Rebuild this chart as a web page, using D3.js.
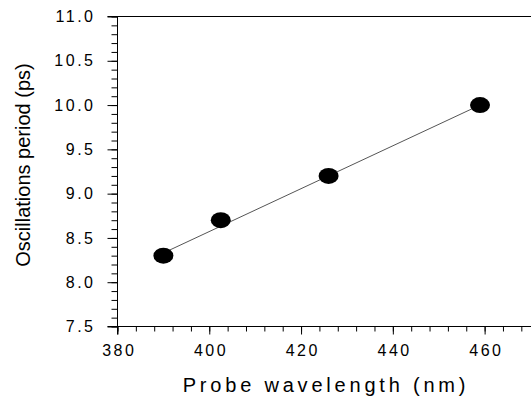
<!DOCTYPE html>
<html>
<head>
<meta charset="utf-8">
<script src="https://cdn.jsdelivr.net/npm/d3@7"></script>
<style>
  html, body { margin: 0; padding: 0; background: #fff; }
  svg { display: block; }
  text { font-family: "Liberation Sans", Arial, sans-serif; fill: #000; }
</style>
</head>
<body>
<svg id="chart" width="531" height="397"></svg>
<script>
"use strict";

// data
const wavelengths = [390, 402.5, 426, 459];
const periods = [8.3, 8.7, 9.2, 10.0];
// straight fit line drawn through the points (end points)
const fitX = [390, 459];
const fitY = [8.33, 10.0];

const xTicks = [380, 400, 420, 440, 460];
const yTicks = [7.5, 8.0, 8.5, 9.0, 9.5, 10.0, 10.5, 11.0];

const width = 531, height = 397;
const margin = { left: 117.5, top: 16.5, right: 0, bottom: 70.5 };

const svg = d3.select("#chart");

const x = d3.scaleLinear().domain([380, 470]).range([margin.left, margin.left + 413]);
const y = d3.scaleLinear().domain([7.5, 11.0]).range([height - margin.bottom, margin.top]);

// top frame line
svg.append("line")
  .attr("x1", margin.left - 10).attr("x2", width)
  .attr("y1", y(11.0)).attr("y2", y(11.0))
  .attr("stroke", "#000").attr("stroke-width", 1);

// y axis with minor ticks
const yMinor = d3.range(75, 111, 1).map(d => d / 10);
svg.append("g")
  .attr("transform", `translate(${margin.left},0)`)
  .call(d3.axisLeft(y).tickValues(yMinor).tickSize(6).tickFormat(""))
  .call(g => g.select(".domain").remove());

svg.append("g")
  .attr("class", "y-axis")
  .attr("transform", `translate(${margin.left},0)`)
  .call(d3.axisLeft(y).tickValues(yTicks).tickSize(10).tickPadding(12).tickFormat(d3.format(".1f")))
  .call(g => g.select(".domain").attr("d", `M0,${y(11.0)}V${y(7.5) + 8}`))
  .call(g => g.selectAll("text")
    .style("font-size", "16px")
    .style("letter-spacing", "2.5px"));

// x axis with minor ticks
const xMinor = d3.range(380, 471, 4);
svg.append("g")
  .attr("transform", `translate(0,${y(7.5)})`)
  .call(d3.axisBottom(x).tickValues(xMinor).tickSize(5).tickFormat(""))
  .call(g => g.select(".domain").remove());

svg.append("g")
  .attr("transform", `translate(0,${y(7.5)})`)
  .call(d3.axisBottom(x).tickValues(xTicks).tickSize(8).tickPadding(10))
  .call(g => g.select(".domain").attr("d", `M${margin.left - 10},0H${width}`))
  .call(g => g.selectAll("text")
    .attr("dx", "1.25px")
    .style("font-size", "16px")
    .style("letter-spacing", "2.5px"));

// fit line
svg.append("line")
  .attr("x1", x(fitX[0])).attr("y1", y(fitY[0]))
  .attr("x2", x(fitX[1])).attr("y2", y(fitY[1]))
  .attr("stroke", "#555").attr("stroke-width", 1);

// data points
svg.append("g")
  .selectAll("ellipse")
  .data(wavelengths)
  .join("ellipse")
  .attr("cx", d => x(d))
  .attr("cy", (d, i) => y(periods[i]))
  .attr("rx", 10)
  .attr("ry", 8)
  .attr("fill", "#000");

// axis titles
svg.append("text")
  .attr("x", 326).attr("y", 392)
  .attr("text-anchor", "middle")
  .style("font-size", "20px")
  .style("letter-spacing", "3.8px")
  .text("Probe wavelength (nm)");

svg.append("text")
  .attr("transform", "translate(30,165) rotate(-90)")
  .attr("text-anchor", "middle")
  .style("font-size", "20px")
  .text("Oscillations period (ps)");
</script>
</body>
</html>
